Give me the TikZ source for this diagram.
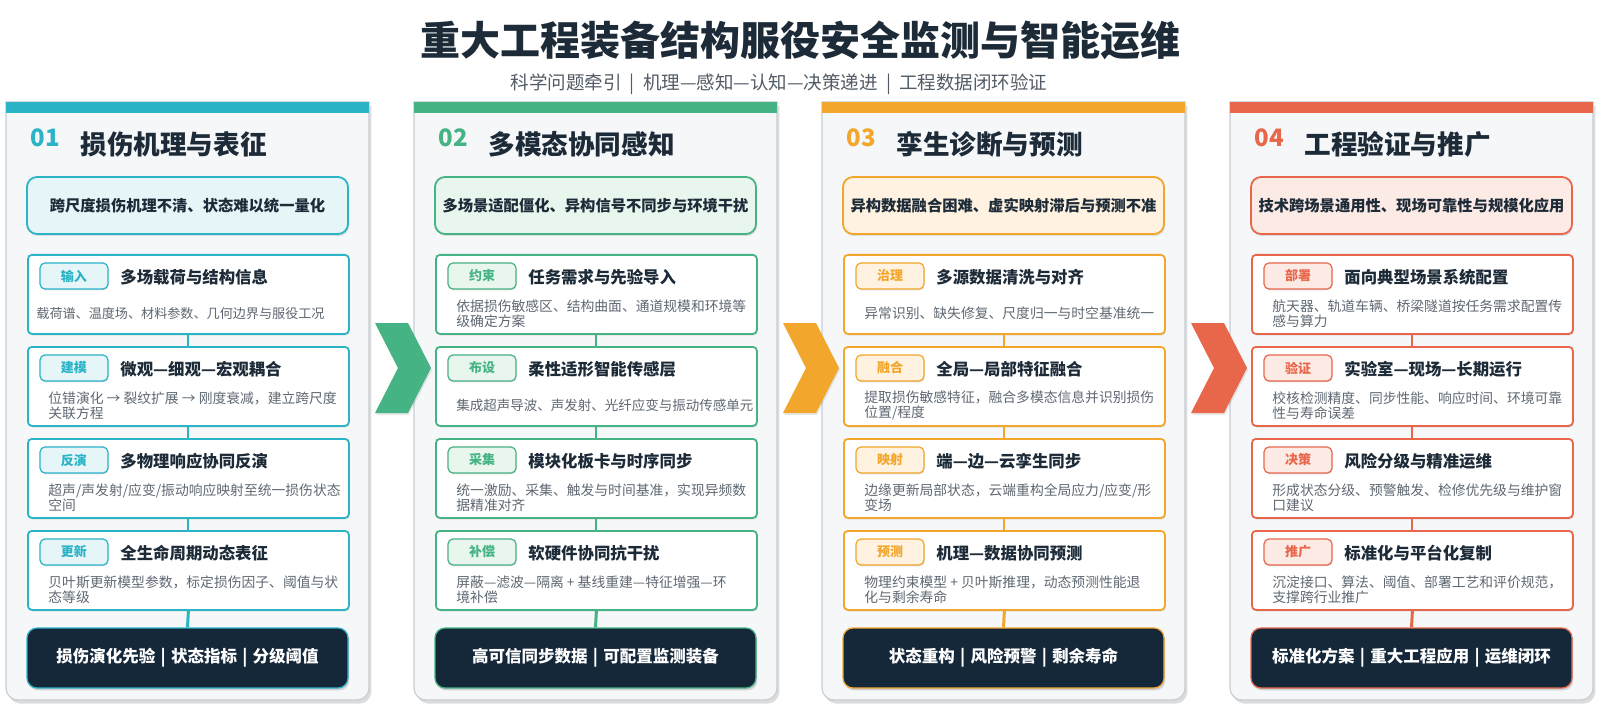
\documentclass[tikz,border=0pt]{standalone}
\usepackage{fontspec}
\setmainfont{Noto Sans CJK SC}
\usetikzlibrary{shadows}
\definecolor{cA}{HTML}{2BB3C6}
\definecolor{cAt}{HTML}{E5F5F8}
\definecolor{cB}{HTML}{45B383}
\definecolor{cBt}{HTML}{E9F6EE}
\definecolor{cC}{HTML}{F2A62C}
\definecolor{cCt}{HTML}{FFF2E0}
\definecolor{cD}{HTML}{E8674B}
\definecolor{cDt}{HTML}{FCEAE5}
\definecolor{navy}{HTML}{15283A}
\definecolor{ink}{HTML}{1D2B38}
\definecolor{gtext}{HTML}{5F6872}
\definecolor{subgray}{HTML}{525C66}
\definecolor{panelbg}{HTML}{F5F7F9}
\definecolor{panelline}{HTML}{C5CDD5}
\colorlet{cur}{cA}
\colorlet{curt}{cAt}
\newcommand\sbar{\hspace{0.45em}|\hspace{0.45em}}
\newcommand\bbar{\hspace{0.32em}|\hspace{0.32em}}
\tikzset{
  titletxt/.style={font=\bfseries\fontsize{20}{22}\selectfont, text=ink, inner sep=0pt},
  subtxt/.style={font=\fontsize{9.25}{10}\selectfont, text=subgray, inner sep=0pt},
  numtxt/.style={font=\bfseries\fontsize{12}{12}\selectfont, text=cur, anchor=west, inner sep=0pt},
  headtxt/.style={font=\bfseries\fontsize{13.3}{14}\selectfont, text=ink, anchor=west, inner sep=0pt},
  softshadow/.style={drop shadow={shadow xshift=0.5pt, shadow yshift=-1pt, opacity=0.18, fill=black!60}},
  probbox/.style={draw=cur, fill=curt, line width=0.9pt, rounded corners=5pt, minimum width=160.5pt, minimum height=28.5pt, inner sep=0pt, font=\bfseries\fontsize{7.65}{8}\selectfont, text=ink, softshadow},
  botbox/.style={draw=cur, fill=navy, line width=0.6pt, rounded corners=5pt, minimum width=160.5pt, minimum height=30pt, inner sep=0pt, font=\bfseries\fontsize{8.25}{9}\selectfont, text=white, drop shadow={shadow xshift=0.6pt, shadow yshift=-1.2pt, opacity=0.25, fill=black!60}},
  cardbox/.style={draw=cur, fill=white, line width=0.9pt, rounded corners=2pt, minimum width=160.5pt, minimum height=39.5pt, inner sep=0pt, drop shadow={shadow xshift=0.4pt, shadow yshift=-0.8pt, opacity=0.15, fill=black!60}},
  tagbox/.style={draw=cur, fill=curt, line width=0.6pt, rounded corners=2.5pt, minimum width=34pt, minimum height=13pt, inner sep=0pt, font=\bfseries\fontsize{6.5}{7}\selectfont, text=cur, drop shadow={shadow xshift=0.3pt, shadow yshift=-0.7pt, opacity=0.2, fill=black!60}},
  cardtitle/.style={font=\bfseries\fontsize{8.2}{9}\selectfont, text=ink, anchor=west, inner sep=0pt},
  desctxt/.style={font=\fontsize{6.9}{7.5}\selectfont, text=gtext, anchor=west, inner sep=0pt, align=left},
  conn/.style={draw=cur, line width=1pt},
  connb/.style={draw=cur, line width=1.5pt},
  chev/.style={drop shadow={shadow xshift=0.5pt, shadow yshift=-1pt, opacity=0.15, fill=black!60}},
}
\newcommand\mkpanel[6]{%
  \path[fill=panelbg, draw=panelline, line width=0.6pt, drop shadow={shadow xshift=1.2pt, shadow yshift=-1.8pt, opacity=0.22, fill=black!60}]
    (#2,102) -- (#2+363,102) -- (#2+363,650) [rounded corners=6pt] -- (#2+363,700) -- (#2,700) -- (#2,650) [sharp corners] -- cycle;
  \fill[cur] (#2,102) rectangle (#2+363,113);
  \node[numtxt] (n#1) at (#2+24,138) {#3};
  \node[headtxt] (t#1) at (#2+74,144) {#4};
  \node[probbox] (q#1) at (#2+181.5,205.5) {#5};
  \node[botbox] (b#1) at (#2+181.5,658) {#6};
}
\newcommand\mkcard[7]{%
  \node[cardbox, anchor=north west] (c#1) at (#2+21,#3) {};
  \node[tagbox] (g#1) at (#2+68,#3+22) {#4};
  \node[cardtitle] (h#1) at (#2+114,#3+23) {#5};
  \node[desctxt,#7] (d#1) at (#2+42,#3+59.5) {#6};
}
\begin{document}
\begin{tikzpicture}[x=0.5pt, y=-0.5pt]
\useasboundingbox[fill=white] (0,0) rectangle (1600,711);

\node[titletxt] (title) at (800,40) {重大工程装备结构服役安全监测与智能运维};
\node[subtxt] (subtitle) at (779,84) {科学问题牵引\sbar 机理—感知—认知—决策递进\sbar 工程数据闭环验证};

% ---------- column 1 ----------
\colorlet{cur}{cA}\colorlet{curt}{cAt}
\mkpanel{A}{6}{01}{损伤机理与表征}{跨尺度损伤机理不清、状态难以统一量化}{损伤演化先验\bbar 状态指标\bbar 分级阈值}
\mkcard{A1}{6}{254}{输入}{多场载荷与结构信息}{载荷谱、温度场、材料参数、几何边界与服役工况}{font=\fontsize{6.55}{7.5}\selectfont, xshift=-6pt}
\mkcard{A2}{6}{346}{建模}{微观—细观—宏观耦合}{位错演化 → 裂纹扩展 → 刚度衰减，建立跨尺度\\关联方程}{}
\mkcard{A3}{6}{438}{反演}{多物理响应协同反演}{超声/声发射/应变/振动响应映射至统一损伤状态\\空间}{}
\mkcard{A4}{6}{530}{更新}{全生命周期动态表征}{贝叶斯更新模型参数，标定损伤因子、阈值与状\\态等级}{}
\draw[conn] (cA1.south) -- (cA2.north);
\draw[conn] (cA2.south) -- (cA3.north);
\draw[conn] (cA3.south) -- (cA4.north);
\draw[connb] (cA4.south) -- (bA.north);

% ---------- column 2 ----------
\colorlet{cur}{cB}\colorlet{curt}{cBt}
\mkpanel{B}{414}{02}{多模态协同感知}{多场景适配僵化、异构信号不同步与环境干扰}{高可信同步数据\bbar 可配置监测装备}
\mkcard{B1}{414}{254}{约束}{任务需求与先验导入}{依据损伤敏感区、结构曲面、通道规模和环境等\\级确定方案}{}
\mkcard{B2}{414}{346}{布设}{柔性适形智能传感层}{集成超声导波、声发射、光纤应变与振动传感单元}{font=\fontsize{6.75}{7.5}\selectfont}
\mkcard{B3}{414}{438}{采集}{模块化板卡与时序同步}{统一激励、采集、触发与时间基准，实现异频数\\据精准对齐}{}
\mkcard{B4}{414}{530}{补偿}{软硬件协同抗干扰}{屏蔽—滤波—隔离 + 基线重建—特征增强—环\\境补偿}{}
\draw[conn] (cB1.south) -- (cB2.north);
\draw[conn] (cB2.south) -- (cB3.north);
\draw[conn] (cB3.south) -- (cB4.north);
\draw[connb] (cB4.south) -- (bB.north);

% ---------- column 3 ----------
\colorlet{cur}{cC}\colorlet{curt}{cCt}
\mkpanel{C}{822}{03}{孪生诊断与预测}{异构数据融合困难、虚实映射滞后与预测不准}{状态重构\bbar 风险预警\bbar 剩余寿命}
\mkcard{C1}{822}{254}{治理}{多源数据清洗与对齐}{异常识别、缺失修复、尺度归一与时空基准统一}{}
\mkcard{C2}{822}{346}{融合}{全局—局部特征融合}{提取损伤敏感特征，融合多模态信息并识别损伤\\位置/程度}{}
\mkcard{C3}{822}{438}{映射}{端—边—云孪生同步}{边缘更新局部状态，云端重构全局应力/应变/形\\变场}{}
\mkcard{C4}{822}{530}{预测}{机理—数据协同预测}{物理约束模型 + 贝叶斯推理，动态预测性能退\\化与剩余寿命}{}
\draw[conn] (cC1.south) -- (cC2.north);
\draw[conn] (cC2.south) -- (cC3.north);
\draw[conn] (cC3.south) -- (cC4.north);
\draw[connb] (cC4.south) -- (bC.north);

% ---------- column 4 ----------
\colorlet{cur}{cD}\colorlet{curt}{cDt}
\mkpanel{D}{1230}{04}{工程验证与推广}{技术跨场景通用性、现场可靠性与规模化应用}{标准化方案\bbar 重大工程应用\bbar 运维闭环}
\mkcard{D1}{1230}{254}{部署}{面向典型场景系统配置}{航天器、轨道车辆、桥梁隧道按任务需求配置传\\感与算力}{}
\mkcard{D2}{1230}{346}{验证}{实验室—现场—长期运行}{校核检测精度、同步性能、响应时间、环境可靠\\性与寿命误差}{}
\mkcard{D3}{1230}{438}{决策}{风险分级与精准运维}{形成状态分级、预警触发、检修优先级与维护窗\\口建议}{}
\mkcard{D4}{1230}{530}{推广}{标准化与平台化复制}{沉淀接口、算法、阈值、部署工艺和评价规范，\\支撑跨行业推广}{}
\draw[conn] (cD1.south) -- (cD2.north);
\draw[conn] (cD2.south) -- (cD3.north);
\draw[conn] (cD3.south) -- (cD4.north);
\draw[connb] (cD4.south) -- (bD.north);

% ---------- chevrons ----------
\fill[cB, chev] (375,323) -- (408,323) -- (431,368) -- (408,413) -- (375,413) -- (398,368) -- cycle;
\fill[cC, chev] (783,323) -- (816,323) -- (839,368) -- (816,413) -- (783,413) -- (806,368) -- cycle;
\fill[cD, chev] (1191,323) -- (1224,323) -- (1247,368) -- (1224,413) -- (1191,413) -- (1214,368) -- cycle;
\end{tikzpicture}
\end{document}
